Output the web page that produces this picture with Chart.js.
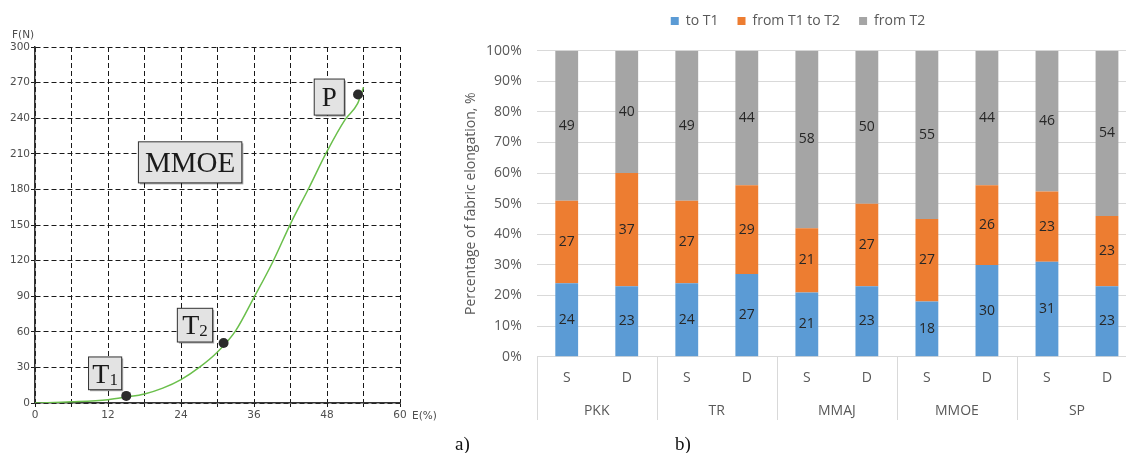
<!DOCTYPE html>
<html>
<head>
<meta charset="utf-8">
<title>MMOE force curve and elongation stages</title>
<script src="https://cdn.jsdelivr.net/npm/chart.js@4/dist/chart.umd.min.js"></script>
<style>
    html, body { margin: 0; padding: 0; background: #fff; overflow: hidden; width: 1126px; height: 453px; }
    #forceChart { position: absolute; left: 0; top: 0; }
    #shareChart { position: absolute; left: 440px; top: 0; }
    .axis-name { position: absolute; font-family: 'DejaVu Sans'; font-size: 10.5px; line-height: 12px; color: #4d4d4d; }
    .caption { position: absolute; font-family: 'Liberation Serif'; font-size: 19px; line-height: 22px; color: #111; }
</style>
</head>
<body>
<canvas id="forceChart" width="430" height="453"></canvas>
<canvas id="shareChart" width="723" height="453"></canvas>
<div class="axis-name" style="left:12px; top:28px;">F(N)</div>
<div class="axis-name" style="left:412px; top:409px;">E(%)</div>
<div class="caption" style="left:455px; top:433px;">a)</div>
<div class="caption" style="left:675px; top:433px;">b)</div>
<script>
// a) force - elongation curve
const curveE = [0, 6, 12, 15, 18, 21, 24, 27, 30, 33, 36, 39, 42, 45, 48, 51, 53, 54];
const curveF = [0, 1, 2.8, 5, 7.6, 12.5, 19.7, 30, 43, 61, 89, 118, 151, 181, 212, 239, 252, 266];
const markE = [15, 31, 53.1];
const markF = [6, 50.5, 260];

// b) share of each stage, %
const groups = ['PKK', 'TR', 'MMAJ', 'MMOE', 'SP'];
const kinds = ['S', 'D', 'S', 'D', 'S', 'D', 'S', 'D', 'S', 'D'];
const toT1 = [24, 23, 24, 27, 21, 23, 18, 30, 31, 23];
const t1ToT2 = [27, 37, 27, 29, 21, 27, 27, 26, 23, 23];
const fromT2 = [49, 40, 49, 44, 58, 50, 55, 44, 46, 54];
const seriesNames = ['to T1', 'from T1 to T2', 'from T2'];

// text boxes on the curve plot (data units)
const tags = [
    { text: 'T', sub: '1', x0: 8.8, x1: 14.25, y0: 11.2, y1: 38.8, size: 28 },
    { text: 'T', sub: '2', x0: 23.4, x1: 29.2, y0: 51.4, y1: 79.8, size: 28 },
    { text: 'P', sub: '', x0: 45.9, x1: 50.85, y0: 242.6, y1: 273, size: 27 },
    { text: 'MMOE', sub: '', x0: 17, x1: 34, y0: 185.5, y1: 220.1, size: 29 }
];

const tagBoxes = {
    id: 'tagBoxes',
    beforeDatasetsDraw(chart) {
        const { ctx, scales: { x, y } } = chart;
        tags.forEach(t => {
            const l = x.getPixelForValue(t.x0), r = x.getPixelForValue(t.x1);
            const top = y.getPixelForValue(t.y1), b = y.getPixelForValue(t.y0);
            ctx.save();
            ctx.shadowColor = 'rgba(0,0,0,0.35)';
            ctx.shadowOffsetX = 1.5;
            ctx.shadowOffsetY = 1.5;
            ctx.fillStyle = '#e3e3e3';
            ctx.fillRect(l, top, r - l, b - top);
            ctx.shadowColor = 'transparent';
            ctx.strokeStyle = '#333';
            ctx.lineWidth = 1;
            ctx.strokeRect(l, top, r - l, b - top);
            const subSize = Math.round(t.size * 0.6);
            ctx.font = t.size + 'px "Liberation Serif"';
            const w1 = ctx.measureText(t.text).width;
            ctx.font = subSize + 'px "Liberation Serif"';
            const w2 = t.sub ? ctx.measureText(t.sub).width : 0;
            const sx = (l + r) / 2 - (w1 + w2) / 2;
            const base = (top + b) / 2 + t.size * 0.33;
            ctx.fillStyle = '#1a1a1a';
            ctx.textBaseline = 'alphabetic';
            ctx.font = t.size + 'px "Liberation Serif"';
            ctx.fillText(t.text, sx, base);
            if (t.sub) {
                ctx.font = subSize + 'px "Liberation Serif"';
                ctx.fillText(t.sub, sx + w1, base + 2);
            }
            ctx.restore();
        });
    }
};

const tickFont = { family: 'DejaVu Sans', size: 10.5 };

new Chart(document.getElementById('forceChart'), {
    type: 'line',
    data: {
        datasets: [{
            data: curveE.map((e, i) => ({ x: e, y: curveF[i] })),
            borderColor: '#6abf4b',
            borderWidth: 1.5,
            pointRadius: 0,
            cubicInterpolationMode: 'monotone',
            fill: false,
            order: 2
        }, {
            data: markE.map((e, i) => ({ x: e, y: markF[i] })),
            showLine: false,
            pointRadius: 5,
            pointBackgroundColor: '#2b2b2b',
            pointBorderWidth: 0,
            order: 1
        }]
    },
    options: {
        responsive: false,
        animation: false,
        layout: { padding: { top: 47, right: 30, bottom: 30, left: 0 } },
        plugins: { legend: { display: false }, tooltip: { enabled: false } },
        scales: {
            x: {
                type: 'linear', min: 0, max: 60,
                ticks: {
                    stepSize: 6, autoSkip: false, maxRotation: 0, padding: 2,
                    color: '#4d4d4d', font: tickFont,
                    callback: v => (v % 12 === 0 ? v : '')
                },
                grid: { color: '#1a1a1a', lineWidth: 1, tickLength: 4 },
                border: { color: '#333', width: 1.5, dash: [5, 3] },
                afterFit: s => { s.height = 20; }
            },
            y: {
                min: 0, max: 300,
                ticks: { stepSize: 30, padding: 1, color: '#4d4d4d', font: tickFont },
                grid: { color: '#1a1a1a', lineWidth: 1, tickLength: 4 },
                border: { color: '#333', width: 1.5, dash: [5, 3] },
                afterFit: s => { s.width = 35; }
            }
        }
    },
    plugins: [tagBoxes]
});

// numbers inside the bar segments
const segmentValues = {
    id: 'segmentValues',
    afterDatasetsDraw(chart) {
        const ctx = chart.ctx;
        ctx.save();
        ctx.font = '14px "Open Sans"';
        ctx.fillStyle = '#262626';
        ctx.textAlign = 'center';
        ctx.textBaseline = 'middle';
        chart.data.datasets.forEach((ds, i) => {
            chart.getDatasetMeta(i).data.forEach((bar, j) => {
                const c = bar.getCenterPoint();
                ctx.fillText(ds.data[j], c.x, c.y);
            });
        });
        ctx.restore();
    }
};

// vertical lines between the groups under the plot
const groupLines = {
    id: 'groupLines',
    afterDraw(chart) {
        const { ctx, chartArea, scales: { x, x2 } } = chart;
        const step = x.getPixelForTick(1) - x.getPixelForTick(0);
        ctx.save();
        ctx.strokeStyle = '#d9d9d9';
        ctx.lineWidth = 1;
        for (let k = 0; k <= groups.length; k++) {
            const px = Math.round(x.getPixelForTick(0) - step / 2 + 2 * k * step) + 0.5;
            ctx.beginPath();
            ctx.moveTo(px, chartArea.bottom);
            ctx.lineTo(px, x2.bottom);
            ctx.stroke();
        }
        ctx.restore();
    }
};

// fixed height for the legend band so the plot starts where it should
const legendBand = {
    id: 'legendBand',
    beforeLayout(chart) {
        const lg = chart.legend;
        if (lg && !lg.bandFixed) {
            const fit = lg.fit.bind(lg);
            lg.fit = function () { fit(); this.height = 55.7; };
            lg.bandFixed = true;
        }
    }
};

const labelFont = { family: 'Open Sans', size: 14 };

new Chart(document.getElementById('shareChart'), {
    type: 'bar',
    data: {
        labels: kinds,
        datasets: [
            { label: seriesNames[0], data: toT1, backgroundColor: '#5b9bd5' },
            { label: seriesNames[1], data: t1ToT2, backgroundColor: '#ed7d31' },
            { label: seriesNames[2], data: fromT2, backgroundColor: '#a5a5a5' }
        ]
    },
    options: {
        responsive: false,
        animation: false,
        categoryPercentage: 1,
        barPercentage: 0.38,
        layout: { padding: { top: -5, right: 26, bottom: 33, left: 19 } },
        plugins: {
            tooltip: { enabled: false },
            legend: {
                position: 'top',
                labels: { boxWidth: 8, boxHeight: 8, padding: 19, color: '#595959', font: labelFont }
            }
        },
        scales: {
            x: {
                stacked: true,
                weight: 0,
                grid: { display: false, drawTicks: false },
                border: { display: false },
                ticks: { color: '#595959', font: labelFont, padding: 13, maxRotation: 0 },
                afterFit: s => { s.height = 38; }
            },
            x2: {
                type: 'category',
                position: 'bottom',
                labels: groups,
                offset: true,
                weight: 1,
                grid: { display: false, drawTicks: false },
                border: { display: false },
                ticks: { color: '#595959', font: labelFont, padding: 8, maxRotation: 0 },
                afterFit: s => { s.height = 25.3; }
            },
            y: {
                stacked: true,
                min: 0, max: 100,
                ticks: { stepSize: 10, padding: 15, color: '#595959', font: labelFont, callback: v => v + '%' },
                grid: { color: '#d9d9d9', drawTicks: false },
                border: { display: false },
                title: { display: true, text: 'Percentage of fabric elongation, %', color: '#595959', font: labelFont },
                afterFit: s => { s.width = 77.7; }
            }
        }
    },
    plugins: [legendBand, segmentValues, groupLines]
});
</script>
</body>
</html>
